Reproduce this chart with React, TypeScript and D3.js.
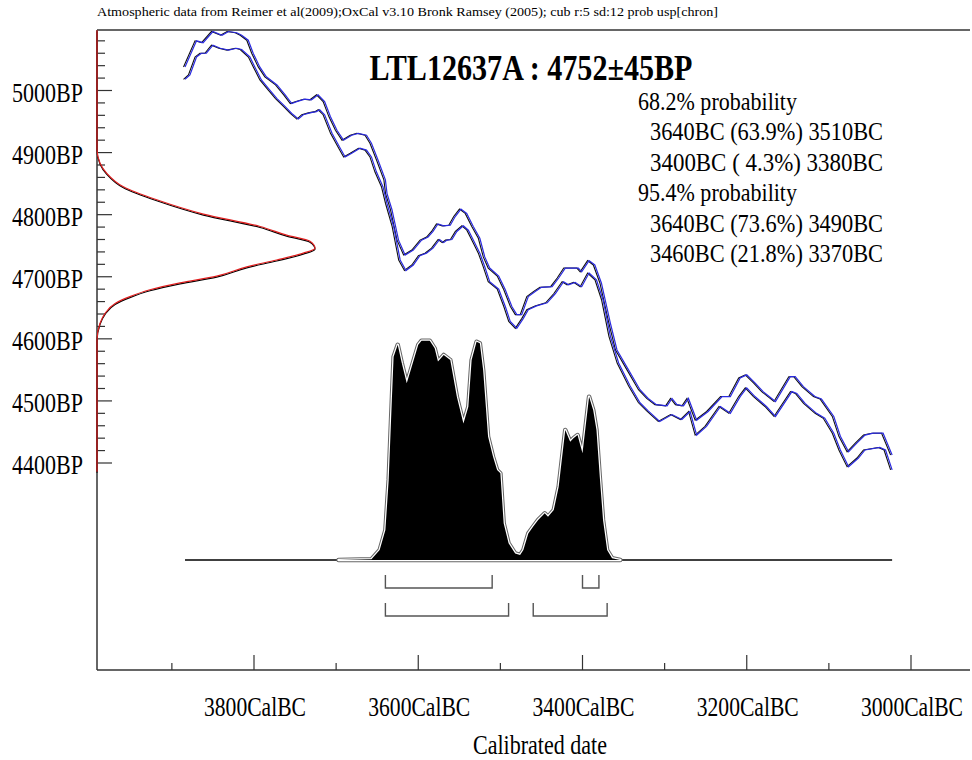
import React from "react";
import * as d3 from "d3";

const HEADER =
  "Atmospheric data from Reimer et al(2009);OxCal v3.10 Bronk Ramsey (2005); cub r:5 sd:12 prob usp[chron]";
const TITLE = "LTL12637A : 4752±45BP";
const X_LABEL = "Calibrated date";

const probLines: [string, number][] = [
  ["68.2% probability", 0],
  ["3640BC (63.9%) 3510BC", 1],
  ["3400BC ( 4.3%) 3380BC", 1],
  ["95.4% probability", 0],
  ["3640BC (73.6%) 3490BC", 1],
  ["3460BC (21.8%) 3370BC", 1],
];

const yMajorTicks = [5000, 4900, 4800, 4700, 4600, 4500, 4400];
const xMajorTicks = [3800, 3600, 3400, 3200, 3000];
const xMinorTicks = [3900, 3700, 3500, 3300, 3100];

const range68: [number, number][] = [
  [3640, 3510],
  [3400, 3380],
];
const range95: [number, number][] = [
  [3640, 3490],
  [3460, 3370],
];

// calibration curve upper bound [cal BC, BP]
const calUpper: [number, number][] = [
  [3884, 5038], [3870, 5080], [3862, 5077], [3850, 5095], [3839, 5089], [3831, 5095],
  [3821, 5093], [3815, 5089], [3807, 5081], [3801, 5060], [3793, 5038], [3785, 5022],
  [3772, 5009], [3762, 4993], [3754, 4979], [3748, 4982], [3738, 4986], [3730, 4985],
  [3722, 4993], [3714, 4982], [3707, 4958], [3699, 4936], [3691, 4920], [3681, 4928],
  [3673, 4931], [3663, 4928], [3657, 4915], [3649, 4888], [3640, 4856], [3638, 4834],
  [3632, 4808], [3624, 4759], [3616, 4735], [3606, 4743], [3596, 4759], [3588, 4764],
  [3582, 4773], [3576, 4785], [3569, 4782], [3561, 4783], [3555, 4797], [3548, 4809],
  [3541, 4802], [3533, 4781], [3525, 4762], [3519, 4732], [3513, 4714], [3502, 4701],
  [3494, 4679], [3486, 4652], [3480, 4639], [3474, 4639], [3466, 4668], [3458, 4676],
  [3450, 4683], [3437, 4684], [3429, 4698], [3421, 4714], [3405, 4714], [3401, 4708],
  [3392, 4726], [3385, 4719], [3377, 4690], [3366, 4625], [3358, 4582], [3344, 4550],
  [3330, 4518], [3320, 4504], [3310, 4494], [3297, 4492], [3291, 4504], [3285, 4494],
  [3277, 4492], [3271, 4504], [3261, 4469], [3247, 4483], [3230, 4507], [3220, 4507],
  [3208, 4537], [3200, 4542], [3190, 4529], [3180, 4515], [3165, 4499], [3147, 4539],
  [3141, 4539], [3131, 4523], [3117, 4507], [3109, 4503], [3094, 4475], [3086, 4443],
  [3076, 4418], [3066, 4432], [3056, 4445], [3046, 4448], [3034, 4448], [3023, 4413],
];

// calibration curve lower bound [cal BC, BP]
const calLower: [number, number][] = [
  [3884, 5018], [3878, 5025], [3870, 5054], [3864, 5060], [3858, 5060], [3850, 5073],
  [3841, 5068], [3831, 5065], [3821, 5068], [3815, 5066], [3805, 5054], [3799, 5038],
  [3791, 5017], [3781, 5001], [3772, 4987], [3762, 4974], [3754, 4963], [3746, 4954],
  [3740, 4961], [3732, 4964], [3724, 4966], [3720, 4969], [3714, 4961], [3705, 4931],
  [3695, 4907], [3689, 4893], [3681, 4899], [3671, 4907], [3663, 4904], [3657, 4893],
  [3651, 4869], [3643, 4845], [3638, 4818], [3630, 4781], [3622, 4727], [3615, 4710],
  [3606, 4719], [3598, 4734], [3590, 4738], [3582, 4746], [3574, 4760], [3569, 4755],
  [3565, 4759], [3559, 4760], [3553, 4773], [3545, 4782], [3539, 4775], [3531, 4754],
  [3525, 4738], [3519, 4716], [3513, 4692], [3502, 4680], [3494, 4652], [3488, 4628],
  [3480, 4617], [3472, 4633], [3466, 4647], [3456, 4653], [3443, 4658], [3433, 4673],
  [3423, 4692], [3417, 4687], [3409, 4691], [3401, 4684], [3392, 4706], [3383, 4695],
  [3375, 4663], [3366, 4604], [3356, 4561], [3342, 4524], [3330, 4497], [3320, 4484],
  [3306, 4467], [3291, 4478], [3279, 4470], [3269, 4483], [3261, 4445], [3249, 4459],
  [3232, 4491], [3220, 4480], [3208, 4507], [3200, 4521], [3190, 4507], [3176, 4491],
  [3165, 4475], [3145, 4515], [3139, 4512], [3129, 4496], [3115, 4480], [3105, 4472],
  [3094, 4448], [3086, 4421], [3076, 4394], [3064, 4408], [3056, 4421], [3038, 4425],
  [3031, 4421], [3023, 4389],
];

// calibrated probability (relative) [cal BC, p]
const calProb: [number, number][] = [
  [3697, 0], [3657, 0.003], [3647, 0.045], [3640, 0.136], [3636, 0.364], [3632, 0.742],
  [3630, 0.924], [3625, 0.978], [3620, 0.894], [3614, 0.803], [3608, 0.878], [3600, 0.978],
  [3596, 0.997], [3586, 0.997], [3580, 0.962], [3576, 0.902], [3569, 0.932], [3561, 0.909],
  [3553, 0.742], [3545, 0.621], [3539, 0.697], [3535, 0.909], [3529, 0.992], [3525, 0.985],
  [3521, 0.864], [3515, 0.561], [3509, 0.47], [3504, 0.409], [3500, 0.394], [3496, 0.167],
  [3490, 0.076], [3482, 0.03], [3476, 0.023], [3472, 0.045], [3466, 0.121], [3460, 0.152],
  [3454, 0.182], [3446, 0.212], [3442, 0.197], [3435, 0.227], [3429, 0.333], [3421, 0.591],
  [3415, 0.538], [3411, 0.553], [3406, 0.568], [3400, 0.485], [3392, 0.742], [3387, 0.682],
  [3383, 0.591], [3379, 0.379], [3375, 0.182], [3370, 0.045], [3364, 0.008], [3354, 0],
];

// radiocarbon date distribution [BP, p]
const c14Prob: [number, number][] = [
  [5097, 0], [4905, 0], [4883, 0.014], [4867, 0.044], [4845, 0.121], [4824, 0.274],
  [4801, 0.488], [4781, 0.748], [4767, 0.87], [4757, 0.977], [4746, 1.0], [4738, 0.946],
  [4727, 0.824], [4716, 0.687], [4701, 0.549], [4690, 0.381], [4679, 0.243], [4668, 0.151],
  [4657, 0.083], [4641, 0.037], [4625, 0.014], [4598, 0], [4386, 0],
];

const W = 972;
const H = 760;
const FRAME = { left: 97, right: 970, top: 30, bottom: 670 };
const FONT = "'Liberation Serif', 'Times New Roman', serif";

export default function App() {
  const x = d3.scaleLinear().domain([3800, 3000]).range([254, 911]);
  const y = d3.scaleLinear().domain([5000, 4400]).range([90.5, 463]);
  const pX = d3.scaleLinear().domain([0, 1]).range([FRAME.left, 315]);
  const hY = d3.scaleLinear().domain([0, 1]).range([560, 340]);

  const calLine = d3
    .line<[number, number]>()
    .x((d) => x(d[0]))
    .y((d) => y(d[1]));
  const probArea = d3
    .area<[number, number]>()
    .x((d) => x(d[0]))
    .y0(hY(0))
    .y1((d) => hY(d[1]));
  const c14Line = d3
    .line<[number, number]>()
    .x((d) => pX(d[1]))
    .y((d) => y(d[0]))
    .curve(d3.curveMonotoneY);

  const yMinor = d3.range(4400, 5081, 20).filter((v) => v % 100 !== 0);
  const ext = d3.extent(calUpper, (d) => d[0]) as [number, number];

  const bracket = (r: [number, number], top: number, bot: number, key: string) => (
    <path
      key={key}
      d={`M${x(r[0])},${top}V${bot}H${x(r[1])}V${top}`}
      fill="none"
      stroke="#555"
      strokeWidth={1.4}
    />
  );

  return (
    <svg
      width={W}
      height={H}
      style={{ display: "block", position: "absolute", left: 0, top: 0 }}
    >
      <rect x={0} y={0} width={W} height={H} fill="#fff" />
      {/* header */}
      <text
        x={FRAME.left}
        y={16}
        fontFamily={FONT}
        fontSize={12}
        textLength={621}
        lengthAdjust="spacingAndGlyphs"
      >
        {HEADER}
      </text>
      <line x1={FRAME.left} x2={FRAME.right} y1={FRAME.top} y2={FRAME.top} stroke="#666" strokeWidth={2} />

      {/* axes */}
      <line x1={FRAME.left} x2={FRAME.left} y1={FRAME.top} y2={FRAME.bottom} stroke="#333" strokeWidth={1.5} />
      <line x1={FRAME.left} x2={FRAME.right} y1={FRAME.bottom} y2={FRAME.bottom} stroke="#333" strokeWidth={1.5} />

      {yMajorTicks.map((t) => (
        <g key={"ym" + t}>
          <line x1={FRAME.left} x2={FRAME.left + 15} y1={y(t)} y2={y(t)} stroke="#333" strokeWidth={1.2} />
          <text
            x={12}
            y={y(t) + 11}
            fontFamily={FONT}
            fontSize={27}
            textLength={71}
            lengthAdjust="spacingAndGlyphs"
          >
            {t + "BP"}
          </text>
        </g>
      ))}
      {yMinor.map((t) => (
        <line key={"yn" + t} x1={FRAME.left} x2={FRAME.left + 8} y1={y(t)} y2={y(t)} stroke="#333" strokeWidth={1.2} />
      ))}

      {xMajorTicks.map((t) => (
        <g key={"xm" + t}>
          <line x1={x(t)} x2={x(t)} y1={FRAME.bottom} y2={FRAME.bottom - 15} stroke="#333" strokeWidth={1.2} />
          <g transform={`translate(${x(t) + 1},716) scale(0.8,1)`}>
            <text x={0} y={0} textAnchor="middle" fontFamily={FONT} fontSize={27}>
              {t + "CalBC"}
            </text>
          </g>
        </g>
      ))}
      {xMinorTicks.map((t) => (
        <line key={"xn" + t} x1={x(t)} x2={x(t)} y1={FRAME.bottom} y2={FRAME.bottom - 7} stroke="#333" strokeWidth={1.2} />
      ))}
      <text
        x={540}
        y={754}
        textAnchor="middle"
        fontFamily={FONT}
        fontSize={27}
        textLength={134}
        lengthAdjust="spacingAndGlyphs"
      >
        {X_LABEL}
      </text>

      {/* radiocarbon distribution */}
      <path d={c14Line(c14Prob) || ""} fill="none" stroke="#000" strokeWidth={1.2} transform="translate(0,1)" />
      <path d={c14Line(c14Prob) || ""} fill="none" stroke="#e02020" strokeWidth={1.2} />

      {/* calibration curve */}
      {[calUpper, calLower].map((c, i) => (
        <g key={"cal" + i}>
          <path d={calLine(c) || ""} fill="none" stroke="#111" strokeWidth={1.1} transform="translate(-1.5,0)" />
          <path d={calLine(c) || ""} fill="none" stroke="#2a2ae0" strokeWidth={1.2} />
        </g>
      ))}

      {/* calibrated distribution */}
      <line x1={x(ext[1])} x2={x(ext[0])} y1={hY(0)} y2={hY(0)} stroke="#000" strokeWidth={1.5} />
      <path d={probArea(calProb) || ""} fill="none" stroke="#666" strokeWidth={4.5} strokeLinejoin="round" />
      <path d={probArea(calProb) || ""} fill="none" stroke="#fff" strokeWidth={2.5} strokeLinejoin="round" />
      <path d={probArea(calProb) || ""} fill="#000" stroke="none" />

      {/* ranges */}
      {range68.map((r, i) => bracket(r, 575, 588, "r68" + i))}
      {range95.map((r, i) => bracket(r, 603, 616, "r95" + i))}

      {/* title */}
      <text
        x={531}
        y={80}
        textAnchor="middle"
        fontFamily={FONT}
        fontWeight="bold"
        fontSize={36}
        textLength={323}
        lengthAdjust="spacingAndGlyphs"
      >
        {TITLE}
      </text>

      {probLines.map(([s, ind], i) => (
        <text
          key={"pl" + i}
          x={ind ? 650 : 638}
          y={110 + i * 30.4}
          fontFamily={FONT}
          fontSize={26}
          textLength={ind ? 233 : 159}
          lengthAdjust="spacingAndGlyphs"
        >
          {s}
        </text>
      ))}
    </svg>
  );
}
